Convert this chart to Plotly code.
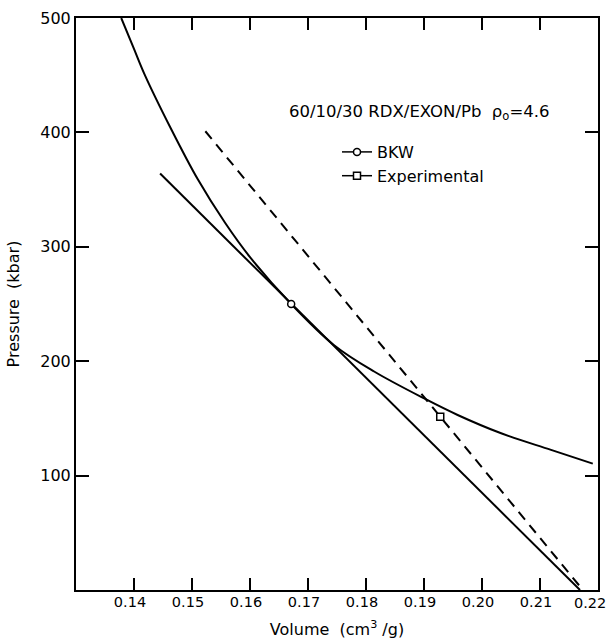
import plotly.graph_objects as go

# BKW isentrope
bkw_v = [0.1378, 0.1400, 0.1418, 0.1464, 0.1510, 0.1557, 0.1600, 0.1671, 0.1745,
         0.1814, 0.1902, 0.1958, 0.2033, 0.2119, 0.2191]
bkw_p = [500, 473, 451, 403, 359, 321, 291, 250, 214, 191, 167, 153, 137, 122.5, 110.5]

# BKW Rayleigh line (solid)
ray_bkw_v = [0.1445, 0.2169]
ray_bkw_p = [364, 0]

# Experimental Rayleigh line (dashed)
ray_exp_v = [0.1523, 0.2174]
ray_exp_p = [401, 0]

# CJ points
cj_bkw_v, cj_bkw_p = [0.1671], [250]
cj_exp_v, cj_exp_p = [0.1928], [151.5]

x_ticks = [0.14, 0.15, 0.16, 0.17, 0.18, 0.19, 0.20, 0.21, 0.22]
y_ticks = [100, 200, 300, 400, 500]

FONT = "DejaVu Sans"
W, H = 610, 639
L, R, T, B = 76, 12, 18, 49
pw, ph = W - L - R, H - T - B

fig = go.Figure()

fig.add_trace(go.Scatter(x=bkw_v, y=bkw_p, mode="lines",
                         line=dict(color="black", width=2, shape="spline", smoothing=1.0),
                         showlegend=False, hoverinfo="skip"))
fig.add_trace(go.Scatter(x=ray_bkw_v, y=ray_bkw_p, mode="lines", line=dict(color="black", width=2),
                         showlegend=False))
fig.add_trace(go.Scatter(x=ray_exp_v, y=ray_exp_p, mode="lines",
                         line=dict(color="black", width=2, dash="10px,7px"), showlegend=False))
fig.add_trace(go.Scatter(x=cj_bkw_v, y=cj_bkw_p, mode="lines+markers", name="BKW",
                         line=dict(color="black", width=1.5),
                         marker=dict(symbol="circle", size=7, color="white", line=dict(color="black", width=1.5))))
fig.add_trace(go.Scatter(x=cj_exp_v, y=cj_exp_p, mode="lines+markers", name="Experimental",
                         line=dict(color="black", width=1.5),
                         marker=dict(symbol="square", size=7, color="white", line=dict(color="black", width=1.5))))

fig.add_annotation(x=(287 - L) / pw, y=1 - (112 - T) / ph, xref="paper", yref="paper",
                   text="60/10/30 RDX/EXON/Pb  ρ<sub>o</sub>=4.6",
                   showarrow=False, font=dict(family=FONT, size=16.5, color="black"),
                   xanchor="left", yanchor="middle")

# last x tick label drawn at its tick value, kept inside the page edge
x_labels = [f"{v:.2f}" for v in x_ticks]
fig.add_annotation(x=x_ticks[-1], y=0, xref="x", yref="paper", text=x_labels[-1],
                   showarrow=False, xanchor="right", yanchor="top", xshift=10, yshift=-3,
                   font=dict(family=FONT, size=14.5, color="black"))
x_labels[-1] = ""

fig.update_layout(
    width=W, height=H,
    margin=dict(l=L, r=R, t=T, b=B, autoexpand=False),
    plot_bgcolor="white", paper_bgcolor="white",
    font=dict(family=FONT, size=14, color="black"),
    legend=dict(x=(337 - L) / pw, y=1 - (135 - T) / ph, xanchor="left", yanchor="top",
                bgcolor="rgba(0,0,0,0)", font=dict(size=16), tracegroupgap=0, itemwidth=30),
    xaxis=dict(range=[0.13, 0.22], tickvals=x_ticks, ticktext=x_labels,
               ticks="inside", ticklen=12, tickwidth=1.5, tickcolor="black",
               tickfont=dict(size=14.5), ticklabelstandoff=-2, ticklabelshift=-4,
               showline=True, linecolor="black", linewidth=2, mirror="ticks",
               showgrid=False, zeroline=False, automargin=False,
               title=dict(text="Volume  (cm<sup>3</sup> /g)", font=dict(size=16), standoff=14)),
    yaxis=dict(range=[0, 500], tickvals=y_ticks,
               ticks="inside", ticklen=13, tickwidth=1.5, tickcolor="black",
               tickfont=dict(size=16),
               showline=True, linecolor="black", linewidth=2, mirror="ticks",
               showgrid=False, zeroline=False, automargin=False,
               title=dict(text="Pressure  (kbar)", font=dict(size=16), standoff=17)),
)

fig.write_html("out.html", config={"displayModeBar": False},
               post_script="document.body.style.margin='0';document.body.style.overflow='hidden';")
